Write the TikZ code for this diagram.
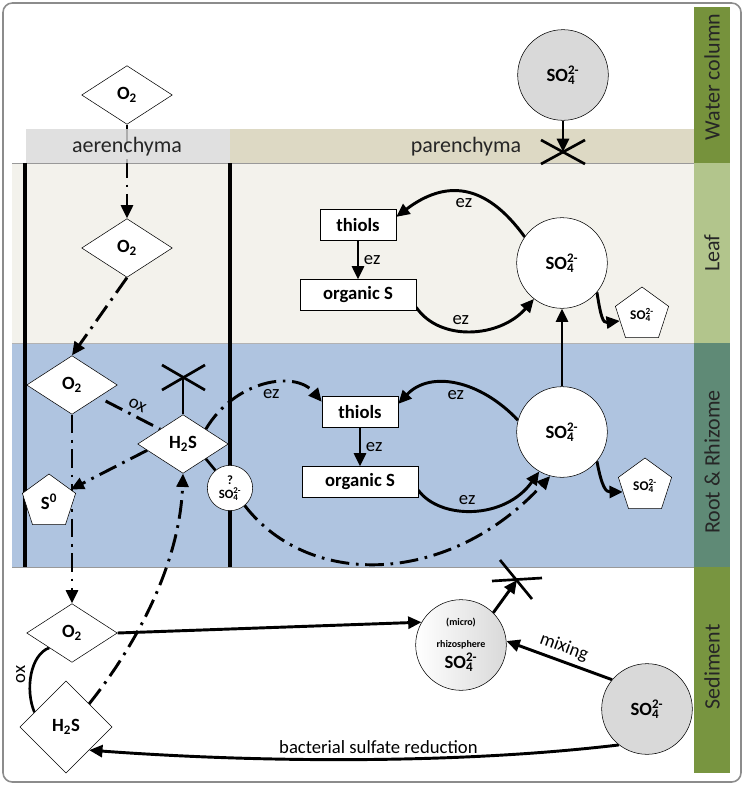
\documentclass[tikz,border=0pt]{standalone}
\usepackage{fontspec}
\setmainfont{Carlito}
\usetikzlibrary{shapes.geometric,arrows.meta,positioning}
\definecolor{leafbg}{HTML}{F3F2EC}
\definecolor{rootbg}{HTML}{AFC4E0}
\definecolor{aerbg}{HTML}{D9D9D9}
\definecolor{parbg}{HTML}{DDD9C4}
\definecolor{barwater}{HTML}{76923C}
\definecolor{barleaf}{HTML}{B2C58C}
\definecolor{barroot}{HTML}{5F8A76}
\definecolor{barsed}{HTML}{789540}
\definecolor{ionfill}{HTML}{D9D9D9}
\pgfdeclarelayer{back}
\pgfdeclarelayer{wires}
\pgfdeclarelayer{veil}
\pgfsetlayers{back,wires,veil,main}
\newcommand{\sulfate}{SO\rlap{\textsubscript{4}}\textsuperscript{2-}}

\begin{document}
\begin{tikzpicture}[x=0.75pt, y=-0.75pt,
    gas/.style={diamond, draw, fill=white, inner sep=0pt, minimum width=68pt, minimum height=44pt, font=\bfseries\fontsize{14}{16}\selectfont},
    ion/.style={circle, draw, fill=white, inner sep=0pt, minimum size=68pt, align=center, font=\bfseries\fontsize{14}{16}\selectfont},
    pool/.style={rectangle, draw, fill=white, minimum height=23pt, inner sep=2pt, font=\bfseries\fontsize{14}{16}\selectfont},
    leak/.style={regular polygon, regular polygon sides=5, draw, fill=white, inner sep=0pt, minimum size=42pt, font=\bfseries\fontsize{10}{12}\selectfont},
    hdr/.style={font=\fontsize{16.5}{19}\selectfont, text=black!85},
    side/.style={hdr, rotate=90},
    lbl/.style={font=\fontsize{14}{16}\selectfont},
    tip/.style={-{Triangle[length=10pt,width=9pt]}},
    flow/.style={tip, line width=2.2pt},
    dflow/.style={line width=2.2pt, dash pattern=on 14pt off 5pt on 2pt off 5pt},
    xbar/.style={line width=2pt}
  ]
  \useasboundingbox (0,0) rectangle (745,786);

  % compartments
  \begin{pgfonlayer}{back}
    \draw[black!45, line width=1.2pt, rounded corners=7pt, fill=white] (3,3) rectangle (741,782);
    \fill[leafbg] (12,163) rectangle (694,343);
    \fill[rootbg] (12,343) rectangle (694,567);
    \fill[parbg] (230,129) rectangle (694,163);
    \draw[black!40] (12,163) -- (694,163);
    \draw[black!30] (12,343) -- (694,343);
    \draw[black!40] (12,567) -- (694,567);
    \fill[barwater] (694,7) rectangle (730,163);
    \fill[barleaf] (694,163) rectangle (730,343);
    \fill[barroot] (694,343) rectangle (730,567);
    \fill[barsed] (694,567) rectangle (730,773);
    \draw[line width=3.5pt] (25,163) -- (25,567);
    \draw[line width=3.5pt] (230,163) -- (230,567);
  \end{pgfonlayer}
  \begin{pgfonlayer}{veil}
    \fill[aerbg, fill opacity=0.8] (26,129) rectangle (230,163);
  \end{pgfonlayer}

  \node[hdr] (aer) at (127,147) {aerenchyma};
  \node[hdr] (par) at (466,147) {parenchyma};
  \node[side] (water) at (712,77) {Water column};
  \node[side] (leaf) at (712,253) {Leaf};
  \node[side] (root) at (712,462) {Root \& Rhizome};
  \node[side] (sed) at (712,667) {Sediment};

  % aerenchyma
  \node[gas] (o2top) at (127,95) {O\textsubscript{2}};
  \node[gas] (o2leaf) at (127,248) {O\textsubscript{2}};
  \node[gas] (o2root) at (72,385) {O\textsubscript{2}};
  \node[gas] (h2sroot) at (183,444) {H\textsubscript{2}S};
  \node[leak, font=\bfseries\fontsize{14}{16}\selectfont] (s0) at (49,502) {S\textsuperscript{0}};
  \node[ion, minimum size=34pt, font=\bfseries\fontsize{9.5}{10.5}\selectfont] (qso4) at (230,488) {?\\\sulfate};

  % parenchyma
  \node[ion, fill=ionfill] (so4water) at (563,75) {\sulfate};
  \node[pool, minimum width=57pt] (thiolsleaf) at (358,225) {thiols};
  \node[pool, minimum width=87pt] (orgleaf) at (358,295) {organic S};
  \node[ion] (so4leaf) at (562,263) {\sulfate};
  \node[leak] (pentleaf) at (642,315) {\sulfate};
  \node[pool, minimum width=57pt] (thiolsroot) at (360,412) {thiols};
  \node[pool, minimum width=87pt] (orgroot) at (360,482) {organic S};
  \node[ion] (so4root) at (562,432) {\sulfate};
  \node[leak] (pentroot) at (645,486) {\sulfate};

  % sediment
  \node[gas] (o2sed) at (72,633) {O\textsubscript{2}};
  \node[gas, minimum width=69pt, minimum height=69pt] (h2ssed) at (66,727) {H\textsubscript{2}S};
  \node[ion, left color=white, right color=black!15] (rhizo) at (461,645)
    {{\fontsize{7.5}{9}\selectfont (micro)}\\{\fontsize{7.5}{9}\selectfont rhizosphere}\\\sulfate};
  \node[ion, fill=ionfill] (so4sed) at (647,709) {\sulfate};

  \coordinate (xwater) at (563,152);
  \coordinate (xroot) at (183,377);
  \coordinate (xsed) at (517,580);
  \draw[xbar] ([shift={(-22,-12)}]xwater) -- ([shift={(22,12)}]xwater);
  \draw[xbar] ([shift={(-22,12)}]xwater) -- ([shift={(22,-12)}]xwater);
  \draw[xbar] ([shift={(-21,-12)}]xroot) -- ([shift={(22,13)}]xroot);
  \draw[xbar] ([shift={(-21,13)}]xroot) -- ([shift={(22,-12)}]xroot);
  \draw[xbar] ([shift={(-25,1)}]xsed) -- ([shift={(25,-2)}]xsed);
  \draw[xbar] ([shift={(-17,-20)}]xsed) -- ([shift={(15,19)}]xsed);

  \begin{pgfonlayer}{wires}
    % oxygen and sulfide transport
    \draw[dflow, tip] (o2top) -- (o2leaf);
    \draw[dflow, tip] (o2leaf.south) -- (o2root.north);
    \draw[dflow, tip] (o2root.south) -- (o2sed.north);
    \draw[dflow, shorten <=6pt] (o2root.-25) -- (h2sroot.north west) node[lbl, pos=0.55, above, sloped] {ox};
    \draw[dflow, tip] (h2sroot.190) -- (s0.30);
    \draw[xbar] (h2sroot.south east) -- (qso4);
    \draw[xbar] (h2sroot.north) -- (xroot);
    \draw[dflow, tip] (h2sroot.north east) .. controls (235,380) and (295,370) .. (thiolsroot.165) node[lbl, pos=0.55, below] {ez};
    \draw[dflow, tip] (qso4.-50) .. controls (310,590) and (450,585) .. (so4root.255);
    \draw[dflow, tip] (h2ssed.north east) .. controls (140,640) and (180,560) .. (h2sroot.south);

    % leaf
    \draw[flow] (so4water) -- (xwater);
    \draw[flow] (so4leaf.145) .. controls (485,182) and (445,180) .. (thiolsleaf.12) node[lbl, pos=0.5, below] {ez};
    \draw[flow] (thiolsleaf) -- node[lbl, right] {ez} (orgleaf);
    \draw[flow] (orgleaf.-12) .. controls (440,342) and (500,338) .. (so4leaf.232) node[lbl, pos=0.42, above] {ez};
    \draw[flow] (so4leaf.-40) .. controls (601,318) and (603,323) .. (pentleaf.195);

    % root
    \draw[flow] (so4root) -- (so4leaf);
    \draw[flow] (so4root.165) .. controls (480,380) and (430,370) .. (thiolsroot.12) node[lbl, pos=0.5, below] {ez};
    \draw[flow] (thiolsroot) -- node[lbl, right] {ez} (orgroot);
    \draw[flow] (orgroot.-8) .. controls (440,520) and (505,520) .. (so4root.240) node[lbl, pos=0.45, above] {ez};
    \draw[flow] (so4root.-40) .. controls (602,488) and (606,492) .. (pentroot.195);

    % sediment
    \draw[flow] (o2sed.east) -- (rhizo.150);
    \draw[xbar] (o2sed.south west) .. controls (30,655) and (25,690) .. (h2ssed.155) node[lbl, pos=0.5, rotate=90, anchor=south] {ox};
    \draw[flow] (rhizo.45) -- (xsed);
    \draw[flow] (so4sed.140) -- node[lbl, sloped, above] {mixing} (rhizo.5);
    \draw[flow] (so4sed.232) .. controls (450,765) and (250,762) .. (h2ssed.south east) node[lbl, pos=0.45, above] {bacterial sulfate reduction};
  \end{pgfonlayer}
\end{tikzpicture}
\end{document}
